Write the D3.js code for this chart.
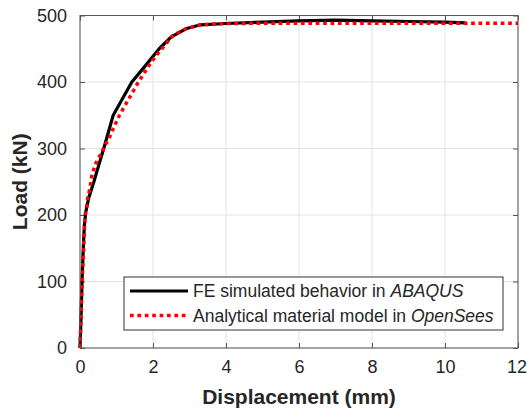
<!DOCTYPE html>
<html>
<head>
<meta charset="utf-8">
<script src="https://cdn.jsdelivr.net/npm/d3@7"></script>
<style>
  body { margin: 0; background: #fff; }
  text { font-family: Arial, "Liberation Sans", sans-serif; }
</style>
</head>
<body>
<div id="chart"></div>
<script>
/* DATA */
const xTicks = [0, 2, 4, 6, 8, 10, 12];
const yTicks = [0, 100, 200, 300, 400, 500];
const seriesNames = ['FE simulated behavior in ', 'Analytical material model in '];
const seriesSoftware = ['ABAQUS', 'OpenSees'];

// FE simulated (ABAQUS): [displacement mm, load kN]
const feDisp = [0, 0.03, 0.055, 0.09, 0.12, 0.16, 0.24, 0.38, 0.53, 0.65, 0.91, 1.42, 1.8, 2.17, 2.5, 2.9, 3.3, 4, 5, 6, 7, 8, 9, 10, 10.55];
const feLoad = [0, 50, 100, 150, 185, 205, 226, 250, 278, 300, 350, 400, 425, 450, 468, 480, 486, 488, 490, 492, 493, 492, 491, 490, 489];

// Analytical model (OpenSees)
const anDisp = [0, 0.03, 0.06, 0.1, 0.14, 0.18, 0.21, 0.27, 0.32, 0.41, 0.5, 0.59, 0.68, 0.78, 0.87, 1.08, 1.6, 1.95, 2.24, 2.55, 2.9, 3.3, 4, 6, 8, 10, 12];
const anLoad = [0, 50, 100, 150, 200, 212, 225, 240, 258, 275, 285, 293, 305, 313, 325, 350, 400, 430, 450, 470, 480, 486, 488, 488.5, 488.5, 488.5, 488.5];

/* LAYOUT */
const W = 527, H = 411;
const margin = { top: 15.5, right: 9, bottom: 63, left: 80 };
const width = W - margin.left - margin.right;
const height = H - margin.top - margin.bottom;

const svg = d3.select('#chart')
  .append('svg')
  .attr('width', W)
  .attr('height', H);

const g = svg.append('g')
  .attr('transform', `translate(${margin.left}, ${margin.top})`);

const x = d3.scaleLinear().domain([0, 12]).range([0, width]);
const y = d3.scaleLinear().domain([0, 500]).range([height, 0]);

// grid
g.append('g')
  .selectAll('line.vg')
  .data(xTicks)
  .enter()
  .append('line')
  .attr('x1', d => x(d)).attr('x2', d => x(d))
  .attr('y1', 0).attr('y2', height)
  .attr('stroke', '#e3e3e3').attr('stroke-width', 1);

g.append('g')
  .selectAll('line.hg')
  .data(yTicks)
  .enter()
  .append('line')
  .attr('x1', 0).attr('x2', width)
  .attr('y1', d => y(d)).attr('y2', d => y(d))
  .attr('stroke', '#e3e3e3').attr('stroke-width', 1);

// axes (ticks inward, MATLAB style)
const axisColor = '#262626';
const styleAxis = sel => {
  sel.select('.domain').remove();
  sel.selectAll('line').attr('stroke', '#555');
  sel.selectAll('text')
    .attr('fill', axisColor)
    .style('font-size', '18px');
};

const xAxis = g.append('g')
  .attr('transform', `translate(0, ${height})`)
  .call(d3.axisBottom(x).tickValues(xTicks).tickSize(-5).tickPadding(12))
  .call(styleAxis);
// keep last label inside the window
xAxis.selectAll('text').filter(d => d === 12).attr('dx', -1.5);

g.append('g')
  .call(d3.axisTop(x).tickValues(xTicks).tickSize(-5).tickFormat(''))
  .call(styleAxis);

g.append('g')
  .call(d3.axisLeft(y).tickValues(yTicks).tickSize(-5).tickPadding(13))
  .call(styleAxis);

g.append('g')
  .attr('transform', `translate(${width}, 0)`)
  .call(d3.axisRight(y).tickValues(yTicks).tickSize(-5).tickFormat(''))
  .call(styleAxis);

// lines
const line = d3.line()
  .x(d => x(d[0]))
  .y(d => y(d[1]));

const feData = feDisp.map((d, i) => [d, feLoad[i]]);
const anData = anDisp.map((d, i) => [d, anLoad[i]]);

g.append('path')
  .datum(feData)
  .attr('d', line)
  .attr('fill', 'none')
  .attr('stroke', '#000')
  .attr('stroke-width', 3.2)
  .attr('stroke-linejoin', 'round');

g.append('path')
  .datum(anData)
  .attr('d', line)
  .attr('fill', 'none')
  .attr('stroke', '#ff0000')
  .attr('stroke-width', 3.5)
  .attr('stroke-dasharray', '3.7,3.7');

// box
g.append('rect')
  .attr('width', width).attr('height', height)
  .attr('fill', 'none')
  .attr('stroke', '#555').attr('stroke-width', 1);

// axis titles
svg.append('text')
  .attr('x', margin.left + width / 2)
  .attr('y', 404)
  .attr('text-anchor', 'middle')
  .attr('fill', axisColor)
  .style('font-size', '21px')
  .style('font-weight', 'bold')
  .text('Displacement (mm)');

svg.append('text')
  .attr('transform', `translate(27, ${margin.top + height / 2}) rotate(-90)`)
  .attr('text-anchor', 'middle')
  .attr('fill', axisColor)
  .style('font-size', '21px')
  .style('font-weight', 'bold')
  .text('Load (kN)');

// legend
const legend = svg.append('g').attr('transform', 'translate(124, 277)');
legend.append('rect')
  .attr('width', 379).attr('height', 53)
  .attr('fill', '#fff')
  .attr('stroke', '#333').attr('stroke-width', 1);

const legendStyles = [
  { color: '#000', dash: null, w: 3.2 },
  { color: '#ff0000', dash: '3.7,3.7', w: 3.5 }
];

const item = legend.selectAll('.legend')
  .data(seriesNames)
  .enter()
  .append('g')
  .attr('class', 'legend')
  .attr('transform', (d, i) => `translate(0, ${14 + i * 24.5})`);

item.append('line')
  .attr('x1', 6).attr('x2', 64)
  .attr('stroke', (d, i) => legendStyles[i].color)
  .attr('stroke-width', (d, i) => legendStyles[i].w)
  .attr('stroke-dasharray', (d, i) => legendStyles[i].dash);

const label = item.append('text')
  .attr('x', 69)
  .attr('y', 0)
  .attr('dy', '.35em')
  .attr('fill', axisColor)
  .style('font-size', '17.5px');

label.append('tspan').text(d => d);
label.append('tspan')
  .style('font-style', 'italic')
  .text((d, i) => seriesSoftware[i]);
</script>
</body>
</html>
